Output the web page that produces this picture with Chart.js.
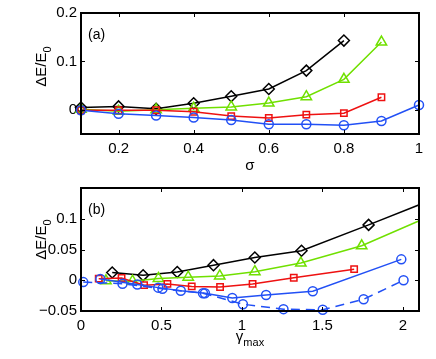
<!DOCTYPE html>
<html>
<head>
<meta charset="utf-8">
<script src="https://cdn.jsdelivr.net/npm/chart.js@4"></script>
<style>
  html, body { margin: 0; padding: 0; background: #fff; }
  .panel { position: relative; width: 436px; }
  canvas { display: block; }
</style>
</head>
<body>
<div class="panel" style="height:175px"><canvas id="chartA"></canvas></div>
<div class="panel" style="height:184px"><canvas id="chartB"></canvas></div>
<script>
// ---- panel (a): energy change vs sigma ----
const sigma = [0.1, 0.2, 0.3, 0.4, 0.5, 0.6, 0.7, 0.8, 0.9, 1.0];
const aBlack = [0.0045, 0.007, 0.002, 0.0135, 0.028, 0.043, 0.081, 0.143];
const aGreen = [0.001, -0.003, 0.0, 0.003, 0.006, 0.014, 0.027, 0.063, 0.140];
const aRed   = [-0.001, -0.001, -0.001, -0.004, -0.013, -0.017, -0.010, -0.007, 0.026];
const aBlue  = [-0.001, -0.008, -0.012, -0.016, -0.021, -0.030, -0.030, -0.032, -0.023, 0.010];
const aXTicks = [0.2, 0.4, 0.6, 0.8, 1];
const aYTicks = [0, 0.1, 0.2];

// ---- panel (b): energy change vs gamma_max ----
const bBlackX = [0.194, 0.386, 0.598, 0.823, 1.08, 1.37, 1.787, 2.2];
const bBlackY = [0.0125, 0.008, 0.0135, 0.0245, 0.037, 0.048, 0.090, 0.133];
const bGreenX = [0.155, 0.32, 0.481, 0.666, 0.862, 1.08, 1.366, 1.744, 2.2];
const bGreenY = [-0.001, -0.0015, 0.003, 0.005, 0.007, 0.014, 0.028, 0.056, 0.108];
const bRedX = [0.11, 0.252, 0.392, 0.537, 0.688, 0.864, 1.066, 1.322, 1.697];
const bRedY = [0.0026, 0.0036, -0.008, -0.006, -0.010, -0.011, -0.006, 0.004, 0.018];
const bBlueX = [0.12, 0.35, 0.48, 0.62, 0.77, 0.94, 1.15, 1.44, 1.99];
const bBlueY = [0.002, -0.007, -0.012, -0.017, -0.021, -0.029, -0.024, -0.018, 0.034];
const bBlueDashX = [0.014, 0.258, 0.506, 0.758, 1.006, 1.258, 1.502, 1.756, 2.004];
const bBlueDashY = [-0.003, -0.0057, -0.014, -0.021, -0.039, -0.047, -0.048, -0.031, 0.0];
const bXTicks = [0, 0.5, 1, 1.5, 2];
const bYTicks = [-0.05, 0, 0.05, 0.1];

const BLACK = '#000000', GREEN = '#70e000', RED = '#ee1111', BLUE = '#2250f5';
const FONT = '"Liberation Sans", Arial, Helvetica, sans-serif';

function pts(xs, ys) {
    return ys.map((y, i) => ({ x: xs[i], y: y }));
}

function series(xs, ys, color, style, radius, clip, dash) {
    return {
        data: pts(xs, ys),
        showLine: true,
        borderColor: color,
        borderWidth: 1.5,
        borderDash: dash || [],
        pointStyle: style,
        pointRadius: radius,
        pointBorderColor: color,
        pointBackgroundColor: 'rgba(0,0,0,0)',
        pointBorderWidth: 1.5,
        clip: clip
    };
}

function fmt(v) {
    return v < 0 ? '\u2212' + String(-v) : String(v);
}

// box, inward ticks on all four sides, axis titles with subscripts, panel tag
const frame = {
    id: 'frame',
    afterDraw(chart, args, o) {
        const { ctx, chartArea: a, scales: { x, y } } = chart;
        ctx.save();
        ctx.strokeStyle = '#000';
        ctx.lineWidth = 1;
        x.ticks.forEach(t => {
            const px = Math.round(x.getPixelForValue(t.value)) + 0.5;
            ctx.beginPath();
            ctx.moveTo(px, a.bottom); ctx.lineTo(px, a.bottom - 4);
            ctx.moveTo(px, a.top); ctx.lineTo(px, a.top + 4);
            ctx.stroke();
        });
        y.ticks.forEach(t => {
            const py = Math.round(y.getPixelForValue(t.value)) + 0.5;
            ctx.beginPath();
            ctx.moveTo(a.left, py); ctx.lineTo(a.left + 4, py);
            ctx.moveTo(a.right, py); ctx.lineTo(a.right - 4, py);
            ctx.stroke();
        });
        ctx.lineWidth = 2;
        ctx.strokeRect(a.left, a.top, a.right - a.left, a.bottom - a.top);

        ctx.fillStyle = '#000';
        ctx.textBaseline = 'alphabetic';
        // panel tag
        ctx.font = '14px ' + FONT;
        ctx.textAlign = 'left';
        ctx.fillText(o.tag, a.left + 7, a.top + 26);

        // x title
        ctx.font = '15px ' + FONT;
        const mainW = ctx.measureText(o.xMain).width;
        ctx.font = '11px ' + FONT;
        const subW = o.xSub ? ctx.measureText(o.xSub).width : 0;
        const cx = (a.left + a.right) / 2;
        const x0 = cx - (mainW + subW) / 2;
        ctx.font = '15px ' + FONT;
        ctx.fillText(o.xMain, x0, o.xBase);
        if (o.xSub) {
            ctx.font = '11px ' + FONT;
            ctx.fillText(o.xSub, x0 + mainW, o.xBase + 5);
        }

        // y title, rotated
        ctx.translate(46, (a.top + a.bottom) / 2 + o.yShift);
        ctx.rotate(-Math.PI / 2);
        ctx.font = '15px ' + FONT;
        const w1 = ctx.measureText('\u0394E/E').width;
        ctx.font = '11px ' + FONT;
        const w2 = ctx.measureText('0').width;
        const y0 = -(w1 + w2) / 2;
        ctx.font = '15px ' + FONT;
        ctx.fillText('\u0394E/E', y0, 0);
        ctx.font = '11px ' + FONT;
        ctx.fillText('0', y0 + w1, 5);
        ctx.restore();
    }
};

function makeChart(id, datasets, xr, yr, xt, yt, xAxisH, deco) {
    return new Chart(document.getElementById(id).getContext('2d'), {
        type: 'scatter',
        data: { datasets: datasets },
        plugins: [frame],
        options: {
            responsive: true,
            maintainAspectRatio: false,
            animation: false,
            events: [],
            layout: { padding: { left: 0, right: 17, top: 6, bottom: 0 } },
            plugins: { legend: { display: false }, tooltip: { enabled: false }, frame: deco },
            scales: {
                x: {
                    type: 'linear', min: xr[0], max: xr[1],
                    afterBuildTicks: s => { s.ticks = xt.map(v => ({ value: v })); },
                    afterFit: s => { s.height = xAxisH; },
                    grid: { display: false, drawTicks: false },
                    border: { display: false },
                    ticks: { color: '#000', font: { family: FONT, size: 15 }, padding: 6, maxRotation: 0, callback: v => fmt(v) }
                },
                y: {
                    type: 'linear', min: yr[0], max: yr[1],
                    afterBuildTicks: s => { s.ticks = yt.map(v => ({ value: v })); },
                    afterFit: s => { s.width = 81; },
                    grid: { display: false, drawTicks: false },
                    border: { display: false },
                    ticks: { color: '#000', font: { family: FONT, size: 15 }, padding: 4, callback: v => fmt(v) }
                }
            }
        }
    });
}

makeChart('chartA', [
    series(sigma, aBlue, BLUE, 'circle', 4.5, false),
    series(sigma, aRed, RED, 'rect', 4.5, false),
    series(sigma, aGreen, GREEN, 'triangle', 6, false),
    series(sigma, aBlack, BLACK, 'rectRot', 5.5, false)
], [0.1, 1], [-0.05, 0.2], aXTicks, aYTicks, 41,
    { tag: '(a)', xMain: '\u03c3', xSub: '', xBase: 170, yShift: -7 });

const clipB = { left: 10, top: 10, right: 0, bottom: 10 };
makeChart('chartB', [
    series(bBlueDashX, bBlueDashY, BLUE, 'circle', 4.5, clipB, [9, 6]),
    series(bBlueX, bBlueY, BLUE, 'circle', 4.5, clipB),
    series(bRedX, bRedY, RED, 'rect', 4.5, clipB),
    series(bGreenX, bGreenY, GREEN, 'triangle', 6, clipB),
    series(bBlackX, bBlackY, BLACK, 'rectRot', 5.5, clipB)
], [0, 2.1], [-0.05, 0.15], bXTicks, bYTicks, 48,
    { tag: '(b)', xMain: '\u03b3', xSub: 'max', xBase: 166, yShift: -10 });
</script>
</body>
</html>
